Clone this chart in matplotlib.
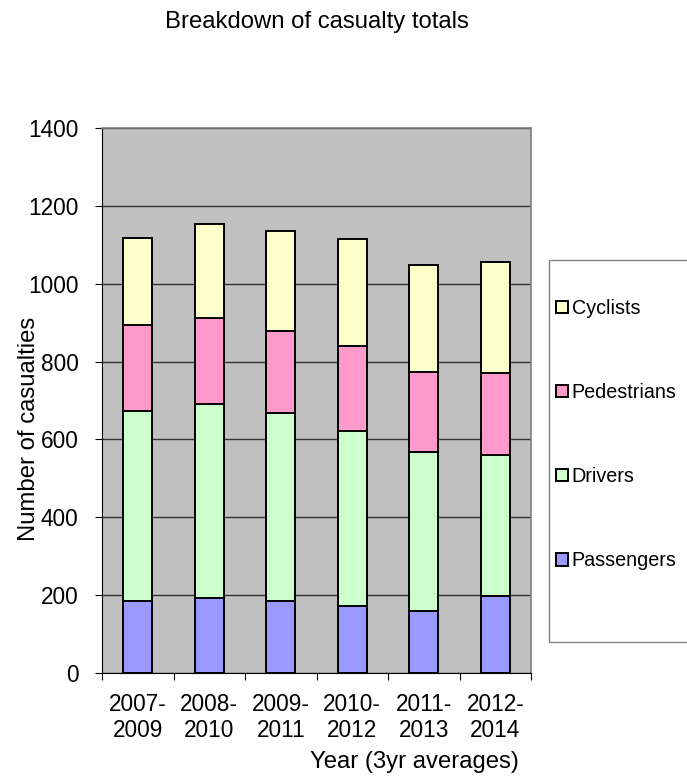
import matplotlib
matplotlib.use("Agg")
import matplotlib.pyplot as plt
from matplotlib.patches import Rectangle
import numpy as np

plt.rcParams["font.family"] = ["Liberation Sans", "DejaVu Sans"]

periods = ["2007-\n2009", "2008-\n2010", "2009-\n2011", "2010-\n2012", "2011-\n2013", "2012-\n2014"]
passengers = [186, 193, 186, 172, 160, 197]
drivers = [486, 499, 483, 449, 407, 362]
pedestrians = [222, 220, 210, 218, 206, 211]
cyclists = [224, 242, 256, 276, 276, 285]

series = [
    ("Passengers", passengers, "#9999FF"),
    ("Drivers", drivers, "#CCFFCC"),
    ("Pedestrians", pedestrians, "#FF99CC"),
    ("Cyclists", cyclists, "#FFFFCC"),
]

FS = 16.3        # tick labels
LAB_FS = 17.2    # axis titles and chart title
LEG_FS = 14.2
W, H = 687, 776

fig = plt.figure(figsize=(W / 100, H / 100), dpi=100)
ax = fig.add_axes([102 / W, 1 - 673 / H, 429 / W, 545 / H])
ax.set_facecolor("#C0C0C0")

x = np.arange(len(periods))
bottom = np.zeros(len(periods))
handles = []
for name, vals, color in series:
    b = ax.bar(x, vals, width=0.41, bottom=bottom, color=color,
               edgecolor="black", linewidth=1.4, label=name, zorder=3)
    handles.append(b)
    bottom += np.array(vals)

ax.set_xlim(-0.5, len(periods) - 0.5)
ax.set_ylim(0, 1400)
ax.set_yticks(range(0, 1401, 200))
ax.yaxis.grid(True, color="#333333", linewidth=1.0, zorder=1)
ax.set_axisbelow(True)

# category ticks sit on the boundaries, labels in the middle
ax.set_xticks(np.arange(-0.5, len(periods)), minor=False)
ax.set_xticklabels([])
ax.set_xticks(x, minor=True)
ax.set_xticklabels(periods, minor=True, fontsize=FS, linespacing=1.15)
ax.tick_params(axis="x", which="minor", length=0, pad=14.5)
ax.tick_params(axis="x", which="major", length=5, color="black")
ax.tick_params(axis="y", labelsize=FS, length=5, pad=12)

for s in ("left", "bottom"):
    ax.spines[s].set_color("black")
for s in ("top", "right"):
    ax.spines[s].set_color("#808080")
    ax.spines[s].set_linewidth(1.2)

ax.set_ylabel("Number of casualties", fontsize=LAB_FS)
ax.yaxis.set_label_coords(-0.145, 0.448)
ax.set_xlabel("Year (3yr averages)", fontsize=LAB_FS)
ax.xaxis.set_label_coords(0.728, -0.143)

fig.text(0.462, 1 - 22 / H, "Breakdown of casualty totals",
         ha="center", va="center", fontsize=LAB_FS)

# legend frame drawn separately: Excel-like box cut off at the right edge
fig.patches.append(Rectangle((549 / W, 1 - 642 / H), 150 / W, 382 / H,
                             transform=fig.transFigure, facecolor="white",
                             edgecolor="#808080", linewidth=1.0, zorder=0))
leg = fig.legend(handles[::-1], [h.get_label() for h in handles[::-1]],
                 loc="upper left", bbox_to_anchor=(556 / W, 1 - 299 / H),
                 fontsize=LEG_FS, frameon=False, labelspacing=3.3,
                 handlelength=0.6, handleheight=0.6, handletextpad=0.2,
                 borderpad=0, borderaxespad=0)

fig.savefig("out.png", dpi=100)
